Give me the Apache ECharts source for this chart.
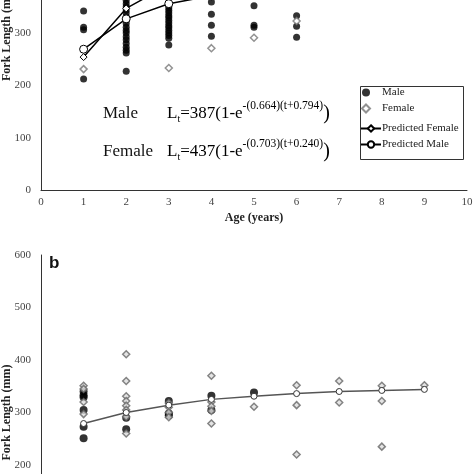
<!DOCTYPE html>
<html><head><meta charset="utf-8">
<script src="https://cdn.jsdelivr.net/npm/echarts@6/dist/echarts.min.js"></script>
<style>html,body{margin:0;padding:0;background:#fff;overflow:hidden;width:474px;height:474px}
#c{position:absolute;left:0;top:-124px;width:474px;height:694px}</style>
</head><body><div id="c"></div>
<script>
// ---- Data (panel a) ----
const ageTicks = [0,1,2,3,4,5,6,7,8,9,10];
const predAges = [1,2,3,4,5,6];
const aMale = [
  [1,342],[1,311],[1,306],[1,212],
  [2,368],[2,362],[2,356],[2,350],[2,344],[2,338],[2,331],[2,325],[2,318],[2,311],[2,305],[2,300],[2,293],[2,287],[2,280],[2,273],[2,267],[2,262],[2,227],
  [3,357],[3,352],[3,348],[3,343],[3,338],[3,333],[3,329],[3,324],[3,319],[3,314],[3,310],[3,305],[3,300],[3,295],[3,290],[3,277],
  [4,359],[4,336],[4,315],[4,294],
  [5,352],[5,315],[5,311],
  [6,333],[6,313],[6,292]
];
const aFemale = [[1,231],[3,233],[4,271],[5,291],[6,323]];
const aPredMale = [269,327,356,371,379,383];
const aPredFemale = [254,347,392,415,426,432];
// ---- Data (panel b) ----
const bAges = [1,2,3,4,5,6,7,8,9];
const bMale = [[1,340],[1,333],[1,329],[1,305],[1,273],[1,251],[2,290],[2,268],[3,322],[3,298],[3,295],[4,332],[4,305],[5,338]];
const bFemale = [[1,351],[1,345],[1,320],[1,297],[2,411],[2,360],[2,331],[2,322],[2,313],[2,305],[2,292],[2,260],
  [3,318],[3,310],[3,300],[3,291],[4,370],[4,320],[4,312],[4,303],[4,279],[5,311],[6,352],[6,314],[6,220],
  [7,360],[7,319],[8,351],[8,322],[8,235],[9,352]];
const bPred = [279,300,314,325,331,336,340,342,344];

const serif = 'Liberation Serif';
const OFF = 124; // container offset above the window
const zip = (xs, ys) => xs.map((x,i)=>[x, ys[i]]);

const chart = echarts.init(document.getElementById('c'), null, {renderer:'canvas'});
const axisLine = {show:true, lineStyle:{color:'#333', width:1}};
const xAxisBase = {type:'value', min:0, max:10, interval:1, splitLine:{show:false}, axisTick:{show:false}, axisLine,
  axisLabel:{color:'#444', fontFamily:serif, fontSize:11, margin:7}};
const yAxisBase = {type:'value', min:0, max:600, interval:100, splitLine:{show:false}, axisTick:{show:false}, axisLine,
  axisLabel:{color:'#444', fontFamily:serif, fontSize:11, margin:10},
  name:'Fork Length (mm)', nameLocation:'middle', nameGap:28, nameRotate:90, nameMoveOverlap:false,
  nameTextStyle:{fontFamily:serif, fontWeight:'bold', fontSize:12, color:'#222'}};

const eqRich = {
  a:{fontFamily:serif, fontSize:17, color:'#111', lineHeight:26, verticalAlign:'bottom', padding:[0,0,2,0]},
  b:{fontFamily:serif, fontSize:20, color:'#111', lineHeight:26, verticalAlign:'bottom'},
  s:{fontFamily:serif, fontSize:10, color:'#111', lineHeight:26, verticalAlign:'bottom'},
  p:{fontFamily:serif, fontSize:11.5, color:'#111', lineHeight:26, verticalAlign:'top', padding:[2,0,0,0]}
};

chart.setOption({
  animation:false,
  grid:[
    {left:41, right:7, top:0, bottom:380, containLabel:false, outerBoundsMode:'none'},
    {left:41, right:7, top:379, bottom:0, containLabel:false, outerBoundsMode:'none'}
  ],
  xAxis:[
    Object.assign({}, xAxisBase, {gridIndex:0, name:'Age (years)', nameLocation:'middle', nameGap:22, nameMoveOverlap:false,
      nameTextStyle:{fontFamily:serif, fontWeight:'bold', fontSize:12, color:'#222'}}),
    Object.assign({}, xAxisBase, {gridIndex:1})
  ],
  yAxis:[
    Object.assign({}, yAxisBase, {gridIndex:0}),
    Object.assign({}, yAxisBase, {gridIndex:1})
  ],
  legend:[
    {data:['Male','Female'], orient:'vertical', left:361, top:87+OFF, padding:0, itemGap:5,
      itemWidth:8, itemHeight:8,
      textStyle:{fontFamily:serif, fontSize:11, color:'#222', padding:[0,0,0,7]}},
    {data:['Predicted Female','Predicted Male'], orient:'vertical', left:360, top:123+OFF, padding:0, itemGap:5,
      itemWidth:20, itemHeight:8,
      textStyle:{fontFamily:serif, fontSize:11, color:'#222', padding:[0,0,0,-4]}}
  ],
  series:[
    {name:'Male', type:'scatter', xAxisIndex:0, yAxisIndex:0, data:aMale, symbol:'circle', symbolSize:7,
      itemStyle:{color:'#000'}},
    {name:'Female', type:'scatter', xAxisIndex:0, yAxisIndex:0, data:aFemale, symbol:'diamond', symbolSize:7,
      itemStyle:{color:'#fff', borderColor:'#777', borderWidth:1.5}},
    {name:'Predicted Female', type:'line', xAxisIndex:0, yAxisIndex:0, data:zip(predAges, aPredFemale),
      symbol:'diamond', symbolSize:7, showSymbol:true,
      lineStyle:{color:'#000', width:1.5}, itemStyle:{color:'#fff', borderColor:'#000', borderWidth:1}},
    {name:'Predicted Male', type:'line', xAxisIndex:0, yAxisIndex:0, data:zip(predAges, aPredMale),
      symbol:'circle', symbolSize:8, showSymbol:true,
      lineStyle:{color:'#000', width:1.5}, itemStyle:{color:'#fff', borderColor:'#000', borderWidth:1}},
    {name:'b Male', type:'scatter', xAxisIndex:1, yAxisIndex:1, data:bMale, symbol:'circle', symbolSize:8,
      itemStyle:{color:'#000'}},
    {name:'b Female', type:'scatter', xAxisIndex:1, yAxisIndex:1, data:bFemale, symbol:'diamond', symbolSize:7,
      itemStyle:{color:'#ddd', borderColor:'#666', borderWidth:1.5}},
    {name:'b Predicted', type:'line', xAxisIndex:1, yAxisIndex:1, data:zip(bAges, bPred),
      symbol:'circle', symbolSize:6, showSymbol:true, z:5,
      lineStyle:{color:'#555', width:1.5}, itemStyle:{color:'#fff', borderColor:'#333', borderWidth:1}}
  ],
  graphic:[
    {type:'rect', left:358, top:84+OFF, shape:{width:103, height:73}, style:{fill:'none', stroke:'#333', lineWidth:1}},
    {type:'text', left:103, top:105+OFF, style:{text:'Male', font:'17px "Liberation Serif"', fill:'#111'}},
    {type:'text', left:103, top:143+OFF, style:{text:'Female', font:'17px "Liberation Serif"', fill:'#111'}},
    {type:'text', left:167, top:98+OFF, style:{text:'{a|L}{s|t}{a|=387(1-e}{p|-(0.664)(t+0.794)}{b|)}', rich:eqRich}},
    {type:'text', left:167, top:136+OFF, style:{text:'{a|L}{s|t}{a|=437(1-e}{p|-(0.703)(t+0.240)}{b|)}', rich:eqRich}},
    {type:'text', left:49, top:255+OFF, style:{text:'b', font:'bold 17px "Liberation Sans"', fill:'#111'}}
  ]
});
</script></body></html>
